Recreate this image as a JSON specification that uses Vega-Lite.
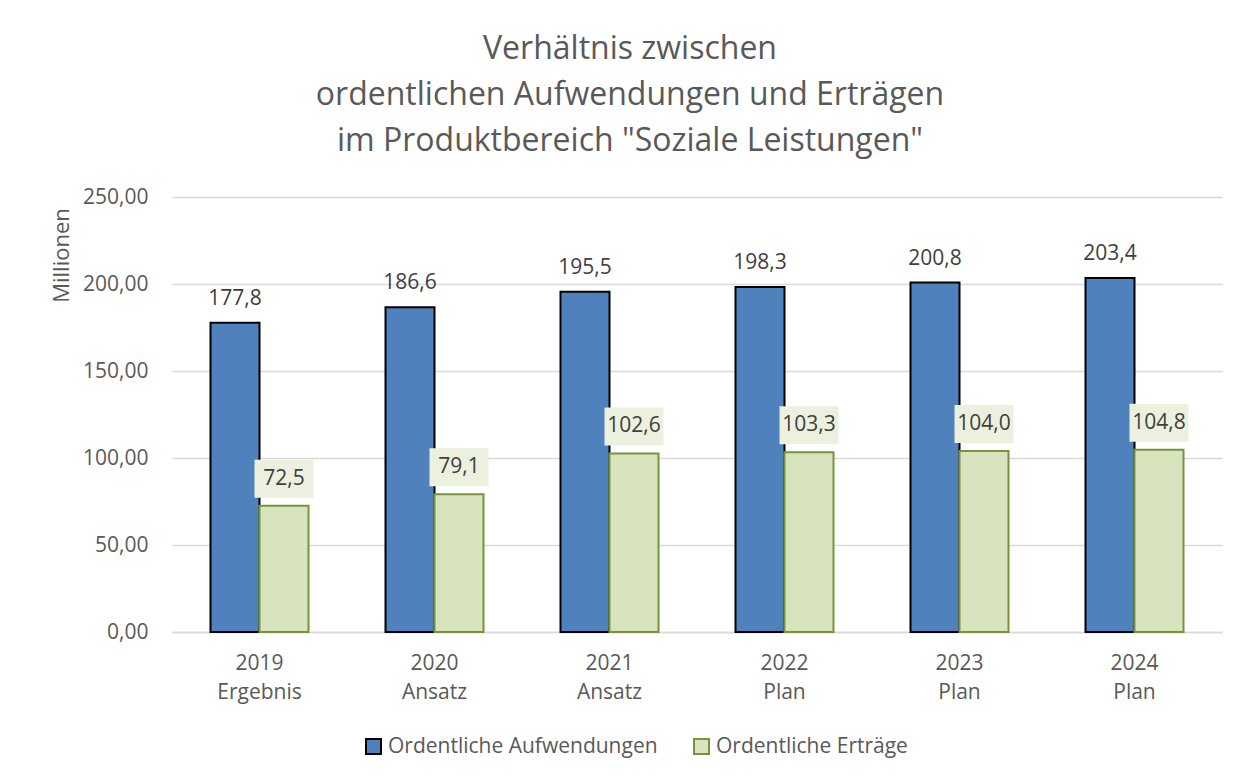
{
  "$schema": "https://vega.github.io/schema/vega-lite/v6.json",
  "autosize": "none",
  "width": 1050,
  "height": 435,
  "padding": {"left": 172, "top": 197, "right": 28, "bottom": 146},
  "background": "white",
  "title": {
    "text": ["Verhältnis zwischen", "ordentlichen Aufwendungen und Erträgen", "im Produktbereich \"Soziale Leistungen\""],
    "fontSize": 32,
    "fontWeight": "normal",
    "color": "#595959",
    "font": "Open Sans",
    "lineHeight": 46,
    "anchor": "middle",
    "offset": 28,
    "dx": -67
  },
  "config": {
    "locale": {"number": {"decimal": ",", "thousands": ".", "grouping": [3], "currency": ["", " €"]}},
    "font": "Open Sans",
    "view": {"stroke": null}
  },
  "data": {
    "values": [
      {"jahr": "2019 Ergebnis", "reihe": "Ordentliche Aufwendungen", "wert": 177.8},
      {"jahr": "2020 Ansatz", "reihe": "Ordentliche Aufwendungen", "wert": 186.6},
      {"jahr": "2021 Ansatz", "reihe": "Ordentliche Aufwendungen", "wert": 195.5},
      {"jahr": "2022 Plan", "reihe": "Ordentliche Aufwendungen", "wert": 198.3},
      {"jahr": "2023 Plan", "reihe": "Ordentliche Aufwendungen", "wert": 200.8},
      {"jahr": "2024 Plan", "reihe": "Ordentliche Aufwendungen", "wert": 203.4},
      {"jahr": "2019 Ergebnis", "reihe": "Ordentliche Erträge", "wert": 72.5},
      {"jahr": "2020 Ansatz", "reihe": "Ordentliche Erträge", "wert": 79.1},
      {"jahr": "2021 Ansatz", "reihe": "Ordentliche Erträge", "wert": 102.6},
      {"jahr": "2022 Plan", "reihe": "Ordentliche Erträge", "wert": 103.3},
      {"jahr": "2023 Plan", "reihe": "Ordentliche Erträge", "wert": 104.0},
      {"jahr": "2024 Plan", "reihe": "Ordentliche Erträge", "wert": 104.8}
    ]
  },
  "encoding": {
    "x": {
      "field": "jahr", "type": "nominal", "sort": null,
      "scale": {"paddingInner": 0.44, "paddingOuter": 0.22},
      "axis": {
        "title": null, "labelAngle": 0, "labelExpr": "split(datum.label, ' ')",
        "labelFontSize": 21, "labelColor": "#595959", "labelLineHeight": 29,
        "labelPadding": 20, "ticks": false, "domainColor": "#d9d9d9", "domainWidth": 1.5, "grid": false
      }
    },
    "xOffset": {
      "field": "reihe", "type": "nominal",
      "scale": {"domain": ["Ordentliche Aufwendungen", "Ordentliche Erträge"], "paddingInner": 0, "paddingOuter": 0}
    },
    "y": {
      "field": "wert", "type": "quantitative",
      "scale": {"domain": [0, 250], "nice": false},
      "axis": {
        "title": "Millionen", "titleFontSize": 22, "titleFontWeight": "normal", "titleColor": "#595959",
        "titleY": 58, "titleAlign": "center", "titlePadding": 9, "values": [0, 50, 100, 150, 200, 250], "format": ".2f",
        "labelFontSize": 21, "labelColor": "#595959", "labelPadding": 24, "ticks": false, "domain": false,
        "gridColor": "#d9d9d9", "gridWidth": 1.5
      }
    }
  },
  "layer": [
    {
      "mark": {"type": "bar", "strokeWidth": 2},
      "encoding": {
        "color": {
          "field": "reihe", "type": "nominal",
          "scale": {"domain": ["Ordentliche Aufwendungen", "Ordentliche Erträge"], "range": ["#4F81BD", "#D7E4BD"]},
          "legend": {
            "title": null, "orient": "none", "legendX": 191, "legendY": 539, "direction": "horizontal",
            "symbolType": "square", "symbolSize": 225, "symbolStrokeWidth": 2, "symbolOpacity": 1,
            "labelFontSize": 21, "labelColor": "#595959", "columnPadding": 32, "labelOffset": 4, "labelLimit": 400
          }
        },
        "stroke": {
          "field": "reihe", "type": "nominal",
          "scale": {"domain": ["Ordentliche Aufwendungen", "Ordentliche Erträge"], "range": ["#000000", "#77933C"]},
          "legend": {
            "title": null, "orient": "none", "legendX": 191, "legendY": 539, "direction": "horizontal",
            "symbolType": "square", "symbolSize": 225, "symbolStrokeWidth": 2, "symbolOpacity": 1,
            "labelFontSize": 21, "labelColor": "#595959", "columnPadding": 32, "labelOffset": 4, "labelLimit": 400
          }
        }
      }
    },
    {
      "transform": [{"filter": "datum.reihe === 'Ordentliche Erträge'"}],
      "mark": {"type": "point", "shape": "M-1,-0.644L1,-0.644L1,0.644L-1,0.644Z", "size": 3481, "filled": true, "fill": "#EBF1DE", "opacity": 1, "strokeWidth": 0, "yOffset": -27}
    },
    {
      "transform": [{"filter": "datum.reihe === 'Ordentliche Erträge'"}],
      "mark": {"type": "text", "fontSize": 21, "color": "#404040", "baseline": "middle", "yOffset": -27},
      "encoding": {"text": {"field": "wert", "type": "quantitative", "format": ".1f"}}
    },
    {
      "transform": [{"filter": "datum.reihe === 'Ordentliche Aufwendungen'"}],
      "mark": {"type": "text", "fontSize": 21, "color": "#404040", "baseline": "middle", "yOffset": -24},
      "encoding": {"text": {"field": "wert", "type": "quantitative", "format": ".1f"}}
    }
  ]
}
